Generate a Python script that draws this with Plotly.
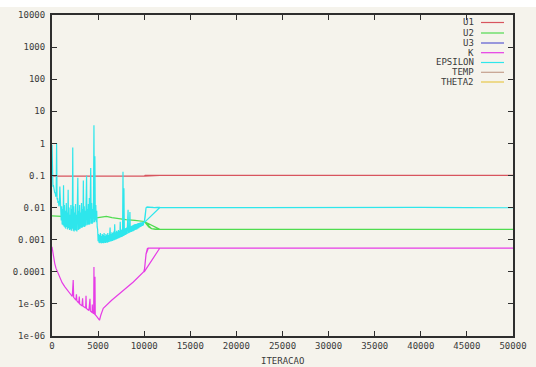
import plotly.graph_objects as go

# ---------------- data ----------------
# Each series: run 1 (0 -> 11700) followed by a restart from iteration 10000.
U1_X = [0, 5000, 10000, 10100, 11700, 10000, 10100, 30000, 50000]
U1_Y = [0.095, 0.095, 0.095, 0.101, 0.101, 0.095, 0.101, 0.101, 0.101]

U2_X = [0, 1000, 2000, 3000, 4000, 4800, 5000, 5500, 5900, 6500, 7000, 8000, 9000, 10000,
        10200, 10500, 10800, 11200, 11700,
        10000, 10200, 10500, 10800, 11500, 30000, 50000]
U2_Y = [0.0055, 0.0053, 0.0051, 0.0049, 0.0048, 0.0047, 0.0049, 0.0052, 0.0053, 0.0049, 0.0046,
        0.0042, 0.0040, 0.0037,
        0.0033, 0.0026, 0.0022, 0.0021, 0.0021,
        0.0037, 0.0032, 0.0025, 0.0022, 0.0021, 0.0021, 0.0021]

U3_X = []
U3_Y = []

K_X = [0, 100, 200, 300, 430, 600, 760, 900, 1100, 1400, 1840, 2200, 2300, 2350, 2600, 2650, 2700,
       2900, 2960, 3000, 3250, 3320, 3360, 3650, 3690, 3730, 4000, 4120, 4160, 4350, 4370, 4400,
       4520, 4550, 4580, 4640, 4660, 4690, 4800, 4950, 5150, 5300, 5560, 6470, 7730, 8820, 9950,
       10050, 10200, 10350, 10450, 11000, 11700,
       10000, 10100, 10200, 10350, 10500, 30000, 50000]
K_Y = [6e-4, 3.5e-4, 2.5e-4, 1.8e-4, 1.3e-4, 1.0e-4, 7e-5, 5.8e-5, 4.6e-5, 3.4e-5, 2.3e-5, 1.7e-5,
       5.5e-5, 1.6e-5, 1.3e-5, 2.0e-5, 1.25e-5,
       1.05e-5, 1.7e-5, 1.0e-5, 8.7e-6, 1.5e-5, 8.5e-6, 7.4e-6, 1.8e-5, 7.2e-6, 6.2e-6, 1.45e-5,
       6.0e-6, 5.4e-6, 9.5e-6, 5.3e-6,
       5.0e-6, 1.4e-4, 4.9e-6, 4.7e-6, 7e-5, 4.6e-6, 4.2e-6, 3.8e-6, 3.1e-6, 4.5e-6, 7.3e-6, 1.3e-5,
       2.7e-5, 4.8e-5, 1.0e-4,
       1.3e-4, 3.5e-4, 5.2e-4, 5.5e-4, 5.5e-4, 5.5e-4,
       1.0e-4, 1.8e-4, 3.6e-4, 5.3e-4, 5.5e-4, 5.5e-4, 5.5e-4]

EPS_X = [0, 30, 60, 100, 150, 200, 250, 300, 350, 400, 450, 500, 550, 600, 650, 700, 750, 800,
         850, 900, 950,
         1000, 1050, 1100, 1150, 1200, 1250, 1300, 1350, 1400, 1450, 1500, 1550, 1600, 1650, 1700,
         1750, 1800, 1850, 1900, 1950, 2000, 2050, 2100, 2150, 2200, 2250, 2300, 2350, 2400, 2450,
         2500, 2550, 2600, 2650, 2700, 2750, 2800, 2850, 2900, 2950, 3000, 3050, 3100, 3150, 3200,
         3250, 3300, 3350, 3400, 3450, 3500, 3550, 3600, 3650, 3700, 3750, 3800, 3850, 3900, 3950,
         4000, 4050, 4100, 4150, 4200, 4250, 4300, 4350, 4400, 4450, 4500, 4550, 4600, 4650, 4700,
         4750, 4800, 4850, 4900, 4950, 5000,
         5050, 5100, 5150, 5200, 5250, 5300, 5350, 5400, 5450, 5500, 5550, 5600, 5650, 5700, 5750,
         5800, 5850, 5900, 5950, 6000, 6050, 6100, 6150, 6200, 6250, 6300, 6350, 6400, 6450, 6500,
         6550, 6600, 6650, 6700, 6750, 6800, 6850, 6900, 6950, 7000, 7050, 7100, 7150, 7200, 7250,
         7300, 7350, 7400, 7450, 7500, 7550, 7600, 7650, 7700, 7750, 7800, 7850, 7900, 7950, 8000,
         8050, 8100, 8150, 8200, 8250, 8300, 8350, 8400, 8450, 8500, 8550, 8600, 8650, 8700, 8750,
         8800, 8850, 8900, 8950, 9000, 9050, 9100, 9150, 9200, 9250, 9300, 9350, 9400, 9450, 9500,
         9550, 9600, 9650, 9700, 9750, 9800, 9850, 9900, 9950, 10000,
         10100, 10200, 10300, 10500, 10800, 11100, 11400, 11700,
         10000, 10100, 10200, 10300, 11000, 15000, 20000, 25000, 30000, 35000, 40000, 45000, 50000]
EPS_Y = [0.9, 0.1, 0.06, 0.045, 0.05, 0.035, 0.04, 0.028, 0.03, 0.022, 0.025, 1.0, 0.018, 0.02,
         0.014, 0.016, 0.011, 0.013, 0.045, 0.008, 0.012,
         0.004, 0.011, 0.003, 0.009, 0.0028, 0.05, 0.0026, 0.012, 0.0024, 0.008, 0.0022, 0.014,
         0.0025, 0.007, 0.0021, 0.036, 0.0023, 0.010, 0.0020, 0.006, 0.0021, 0.012, 0.0019, 0.009,
         0.0022, 0.75, 0.0019, 0.011, 0.0018, 0.007, 0.0020, 0.013, 0.0019, 0.006, 0.0018, 0.010,
         0.085, 0.0020, 0.008, 0.0021, 0.012, 0.0022, 0.007, 0.0024, 0.014, 0.0023, 0.009, 0.0025,
         0.07, 0.0026, 0.011, 0.0025, 0.008, 0.0027, 0.015, 0.10, 0.0028, 0.009, 0.0030, 0.013,
         0.0029, 0.020, 0.0030, 0.011, 0.17, 0.0032, 0.014, 0.0031, 0.009, 0.0034, 0.017, 3.7,
         0.0035, 0.4, 0.0040, 0.012, 0.0035, 0.008, 0.0025, 0.0021, 0.0009,
         0.0015, 0.0008, 0.0014, 0.00078, 0.0016, 0.0008, 0.0013, 0.00077, 0.0015, 0.00079, 0.0014,
         0.00078, 0.0016, 0.0008, 0.0013, 0.00079, 0.0015, 0.00082, 0.0014, 0.0008, 0.0016,
         0.00083, 0.0014, 0.00085, 0.0016, 0.0024, 0.00088, 0.0015, 0.0009, 0.0017, 0.00092,
         0.0016, 0.00095, 0.0018, 0.00097, 0.0030, 0.0010, 0.0017, 0.00102, 0.0019, 0.00105,
         0.0018, 0.0011, 0.0020, 0.00112, 0.0019, 0.00115, 0.0036, 0.0012, 0.0020, 0.00122,
         0.0021, 0.00125, 0.13, 0.0013, 0.04, 0.00135, 0.0022, 0.0014, 0.0023, 0.00145, 0.0024,
         0.0015, 0.0025, 0.0085, 0.0016, 0.0025, 0.00165, 0.0073, 0.0017, 0.0026, 0.00175, 0.0027,
         0.0018, 0.0028, 0.00185, 0.0029, 0.0019, 0.0030, 0.0020, 0.0031, 0.00205, 0.0031, 0.0021,
         0.0032, 0.0022, 0.0033, 0.0023, 0.0033, 0.0024, 0.0034, 0.0025, 0.0035, 0.0026, 0.0035,
         0.0027, 0.0036, 0.0028, 0.0036, 0.0034,
         0.005, 0.0098, 0.0103, 0.0101, 0.0102, 0.0100, 0.0101, 0.0101,
         0.0034, 0.005, 0.0098, 0.0103, 0.0101, 0.0100, 0.0101, 0.0100, 0.0101, 0.0100, 0.0101,
         0.0100, 0.0099]

TEMP_X = []
TEMP_Y = []
THETA2_X = []
THETA2_Y = []

NAMES = ["U1", "U2", "U3", "K", "EPSILON", "TEMP", "THETA2"]
COLORS = ["#d8545e", "#4fdc4f", "#5a5ad2", "#e63ce6", "#2ee6ec", "#c4a08e", "#e8c84a"]
SERIES = [(U1_X, U1_Y), (U2_X, U2_Y), (U3_X, U3_Y), (K_X, K_Y), (EPS_X, EPS_Y),
          (TEMP_X, TEMP_Y), (THETA2_X, THETA2_Y)]

Y_TICKS = [1e4, 1e3, 1e2, 1e1, 1, 0.1, 0.01, 0.001, 0.0001, 1e-5, 1e-6]
Y_TICKTEXT = ["10000", "1000", "100", "10", "1", "0.1", "0.01", "0.001", "0.0001", "1e-05", "1e-06"]
X_TICKS = [0, 5000, 10000, 15000, 20000, 25000, 30000, 35000, 40000, 45000, 50000]

# ---------------- figure ----------------
W, H = 536, 367
L, R, T, B = 52, 23, 15, 31
PW, PH = W - L - R, H - T - B
BG = "#f5f3ec"
FONT = "DejaVu Sans Mono"
TXT = "#3a3a3a"

fig = go.Figure()
for (x, y), name, col in zip(SERIES, NAMES, COLORS):
    fig.add_trace(go.Scatter(x=x, y=y, mode="lines", name=name,
                             line=dict(color=col, width=1.2), showlegend=False,
                             hoverinfo="skip"))

def px_x(p):
    return (p - L) / PW

def px_y(p):
    return (H - B - p) / PH

shapes = [
    dict(type="rect", xref="paper", yref="paper", x0=px_x(0), x1=px_x(W),
         y0=px_y(7), y1=px_y(0), fillcolor="white", line=dict(width=0), layer="below"),
]
annotations = []
leg_rows = [22.5, 33, 43, 52.7, 62.5, 72.3, 82]
for name, col, yy in zip(NAMES, COLORS, leg_rows):
    annotations.append(dict(x=px_x(476), y=px_y(yy), xref="paper", yref="paper",
                            text=name, showarrow=False, xanchor="right", yanchor="middle",
                            font=dict(family=FONT, size=9, color=TXT)))
    shapes.append(dict(type="line", xref="paper", yref="paper", x0=px_x(481), x1=px_x(504),
                       y0=px_y(yy), y1=px_y(yy), line=dict(color=col, width=1.2)))

annotations.append(dict(x=0.5, y=px_y(361), xref="paper", yref="paper", text="ITERACAO",
                        showarrow=False, xanchor="center", yanchor="middle",
                        font=dict(family=FONT, size=9, color=TXT)))

fig.update_layout(
    width=W, height=H,
    margin=dict(l=L, r=R, t=T, b=B, autoexpand=False),
    paper_bgcolor=BG, plot_bgcolor=BG,
    showlegend=False,
    shapes=shapes, annotations=annotations,
    font=dict(family=FONT, size=9, color=TXT),
)
fig.update_xaxes(range=[0, 50000], tickvals=X_TICKS, ticktext=[str(v) for v in X_TICKS],
                 showgrid=False, zeroline=False, showline=True, linecolor="#2e2e2e",
                 linewidth=2, mirror="allticks", ticks="inside", ticklen=5, tickwidth=1,
                 tickcolor="#2e2e2e", tickfont=dict(family=FONT, size=9, color=TXT))
fig.update_yaxes(type="log", range=[-6, 4], tickvals=Y_TICKS, ticktext=Y_TICKTEXT,
                 showgrid=False, zeroline=False, showline=True, linecolor="#2e2e2e",
                 linewidth=2, mirror="allticks", ticks="inside", ticklen=5, tickwidth=1,
                 tickcolor="#2e2e2e", tickfont=dict(family=FONT, size=9, color=TXT),
                 ticklabelstandoff=3)

fig.write_html("out.html")
